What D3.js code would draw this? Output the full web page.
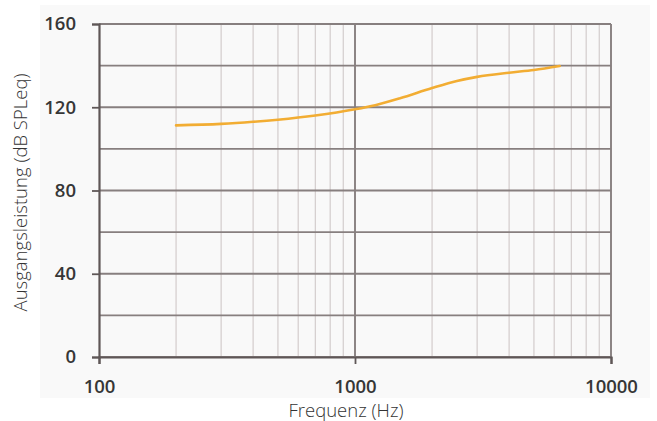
<!DOCTYPE html>
<html>
<head>
<meta charset="utf-8">
<script src="https://cdn.jsdelivr.net/npm/d3@7"></script>
<style>
  html, body { margin: 0; padding: 0; background: #ffffff; }
  svg { display: block; }
  .tick-label { font-family: "Open Sans", sans-serif; font-weight: 600; font-size: 18.5px; fill: #363636; }
  .axis-title { font-family: "Open Sans", sans-serif; font-weight: 300; font-size: 18.5px; fill: #333; }
</style>
</head>
<body>
<svg id="chart" width="657" height="421"></svg>
<script>
// Output level over frequency
const freqs   = [200, 300, 400, 500, 700, 1000, 1200, 1500, 2000, 2500, 3000, 4000, 5000, 6300];
const levels  = [111.3, 112.0, 113.0, 114.0, 116.0, 119.0, 121.0, 124.3, 129.2, 132.6, 134.6, 136.6, 137.9, 139.8];

const xTickValues = [100, 1000, 10000];
const yTickValues = [0, 40, 80, 120, 160];
const yGridValues = [0, 20, 40, 60, 80, 100, 120, 140, 160];

const xTitle = "Frequenz (Hz)";
const yTitle = "Ausgangsleistung (dB SPLeq)";

const svg = d3.select("#chart");
const margin = { left: 99, right: 46, top: 24, bottom: 64 };
const W = 657, H = 421;

const x = d3.scaleLog().domain([100, 10000]).range([margin.left, W - margin.right]);
const y = d3.scaleLinear().domain([0, 160]).range([H - margin.bottom, margin.top]);

// panel background
svg.append("rect").attr("x", 40).attr("y", 5).attr("width", 610).attr("height", 393)
  .attr("fill", "#f9f9f9");

// minor vertical grid (2..9 in each decade)
const minor = [];
[100, 1000].forEach(d => { for (let k = 2; k <= 9; k++) minor.push(d * k); });
svg.append("g").selectAll("line").data(minor).join("line")
  .attr("x1", d => x(d)).attr("x2", d => x(d))
  .attr("y1", y(160)).attr("y2", y(0))
  .attr("stroke", "#d6d0d0").attr("stroke-width", 1.3);

// major vertical grid
svg.append("g").selectAll("line").data([1000, 10000]).join("line")
  .attr("x1", d => x(d)).attr("x2", d => x(d))
  .attr("y1", y(160)).attr("y2", y(0))
  .attr("stroke", "#877f7f").attr("stroke-width", 1.9);

// horizontal grid
svg.append("g").selectAll("line").data(yGridValues).join("line")
  .attr("x1", x(100)).attr("x2", x(10000))
  .attr("y1", d => y(d)).attr("y2", d => y(d))
  .attr("stroke", "#877f7f").attr("stroke-width", 1.9);

// axes
const yAxis = d3.axisLeft(y).tickValues(yTickValues).tickSize(7).tickPadding(16);
const gy = svg.append("g").attr("transform", `translate(${x(100)},0)`).call(yAxis);
gy.select(".domain").attr("stroke", "#5f5757").attr("stroke-width", 2.2);
gy.selectAll(".tick line").attr("stroke", "#5f5757").attr("stroke-width", 1.8);
gy.selectAll(".tick text").attr("class", "tick-label").attr("font-size", null).attr("font-family", null).attr("fill", null);

const xAxis = d3.axisBottom(x).tickValues(xTickValues).tickFormat(d3.format("d")).tickSize(7).tickPadding(16);
const gx = svg.append("g").attr("transform", `translate(0,${y(0)})`).call(xAxis);
gx.select(".domain").attr("stroke", "#5f5757").attr("stroke-width", 2.2);
gx.selectAll(".tick line").attr("stroke", "#5f5757").attr("stroke-width", 1.8);
gx.selectAll(".tick text").attr("class", "tick-label").attr("font-size", null).attr("font-family", null).attr("fill", null);

// curve
const line = d3.line().x((d, i) => x(freqs[i])).y(d => y(d)).curve(d3.curveMonotoneX);
svg.append("path").datum(levels)
  .attr("d", line)
  .attr("fill", "none")
  .attr("stroke", "#f2ad33")
  .attr("stroke-width", 2.6)
  .attr("stroke-linecap", "round");

// axis titles
svg.append("text").attr("class", "axis-title")
  .attr("x", 346).attr("y", 417)
  .attr("text-anchor", "middle").text(xTitle);
svg.append("text").attr("class", "axis-title")
  .attr("transform", `translate(27,${(y(0) + y(160)) / 2 + 2}) rotate(-90)`)
  .attr("text-anchor", "middle").text(yTitle);
</script>
</body>
</html>
